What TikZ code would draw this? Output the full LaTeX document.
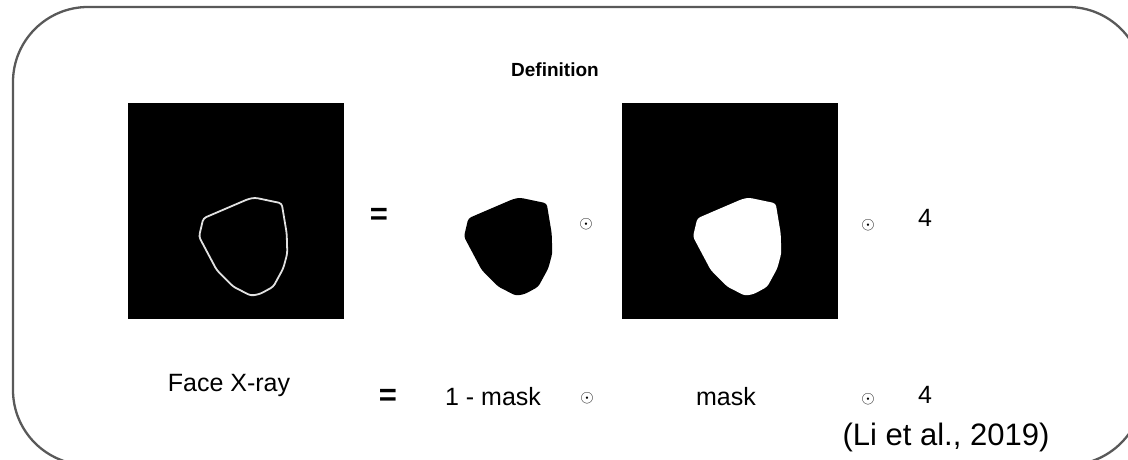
\documentclass[tikz,border=0pt]{standalone}
\usepackage{fontspec}
\setmainfont{Liberation Sans}
\usepackage{xcolor}
\usepackage{tikz}
\usetikzlibrary{positioning, calc}
\definecolor{framegray}{RGB}{89, 89, 89}
\definecolor{contour}{RGB}{225, 225, 225}

\tikzset{
    face/.pic={
        \path[pic actions, rounded corners=3pt] (75.3,115.3) -- (71,133.7) -- (88.7,167) -- (105.3,183.7)
            -- (123,192.7) -- (132,191) -- (145.3,183.7) -- (155.3,165.3) -- (159.3,150.3)
            -- (158.7,130.3) -- (153.7,100.3) -- (127,94.7) -- (120.3,96) -- cycle;
    }
}

\begin{document}
\begin{tikzpicture}[
    x=1pt, y=-1pt,
    img/.style={rectangle, minimum width=216pt, minimum height=216pt, inner sep=0pt, outer sep=0pt},
    txt/.style={font=\fontsize{25}{28}\selectfont, text=black, inner sep=0pt, anchor=base},
    eqsign/.style={font=\fontsize{31}{32}\selectfont\bfseries, inner sep=0pt},
    dotop/.style={font=\fontsize{19}{20}\selectfont, inner sep=0pt}
]
\clip (0,0) rectangle (1128,460);
\draw[framegray, line width=2.3pt, rounded corners=75pt] (13,7) rectangle (1143,465);

\node[font=\fontsize{19}{22}\selectfont\bfseries, inner sep=0pt] (title) at (555,70) {Definition};

% pictures
\node[img, fill=black, anchor=north west] (xray) at (128,103) {};
\node[img, fill=white, right=49pt of xray] (inv) {};
\node[img, fill=black, right=13pt of inv] (mask) {};
\pic[draw=contour, line width=1.8pt] at (xray.north west) {face};
\pic[fill=black] at (inv.north west) {face};
\pic[fill=white] at (mask.north west) {face};

% top row operators
\node[eqsign] (eqa) at (379,216) {=};
\node[dotop] (opa) at (586,224) {$\odot$};
\node[dotop] (opb) at (868,225) {$\odot$};
\node[txt] (fora) at (925,226) {4};

% bottom row
\node[txt] (lblxray) at (229,391) {Face X-ray};
\node[eqsign] (eqb) at (388,397) {=};
\node[txt] (lblinv) at (493,405) {1 - mask};
\node[dotop] (opc) at (587,398) {$\odot$};
\node[txt] (lblmask) at (726,405) {mask};
\node[dotop] (opd) at (868,399) {$\odot$};
\node[txt] (forb) at (925,403) {4};

\node[font=\fontsize{31}{34}\selectfont, inner sep=0pt, anchor=base] (cite) at (946,445) {(Li et al., 2019)};
\end{tikzpicture}
\end{document}
